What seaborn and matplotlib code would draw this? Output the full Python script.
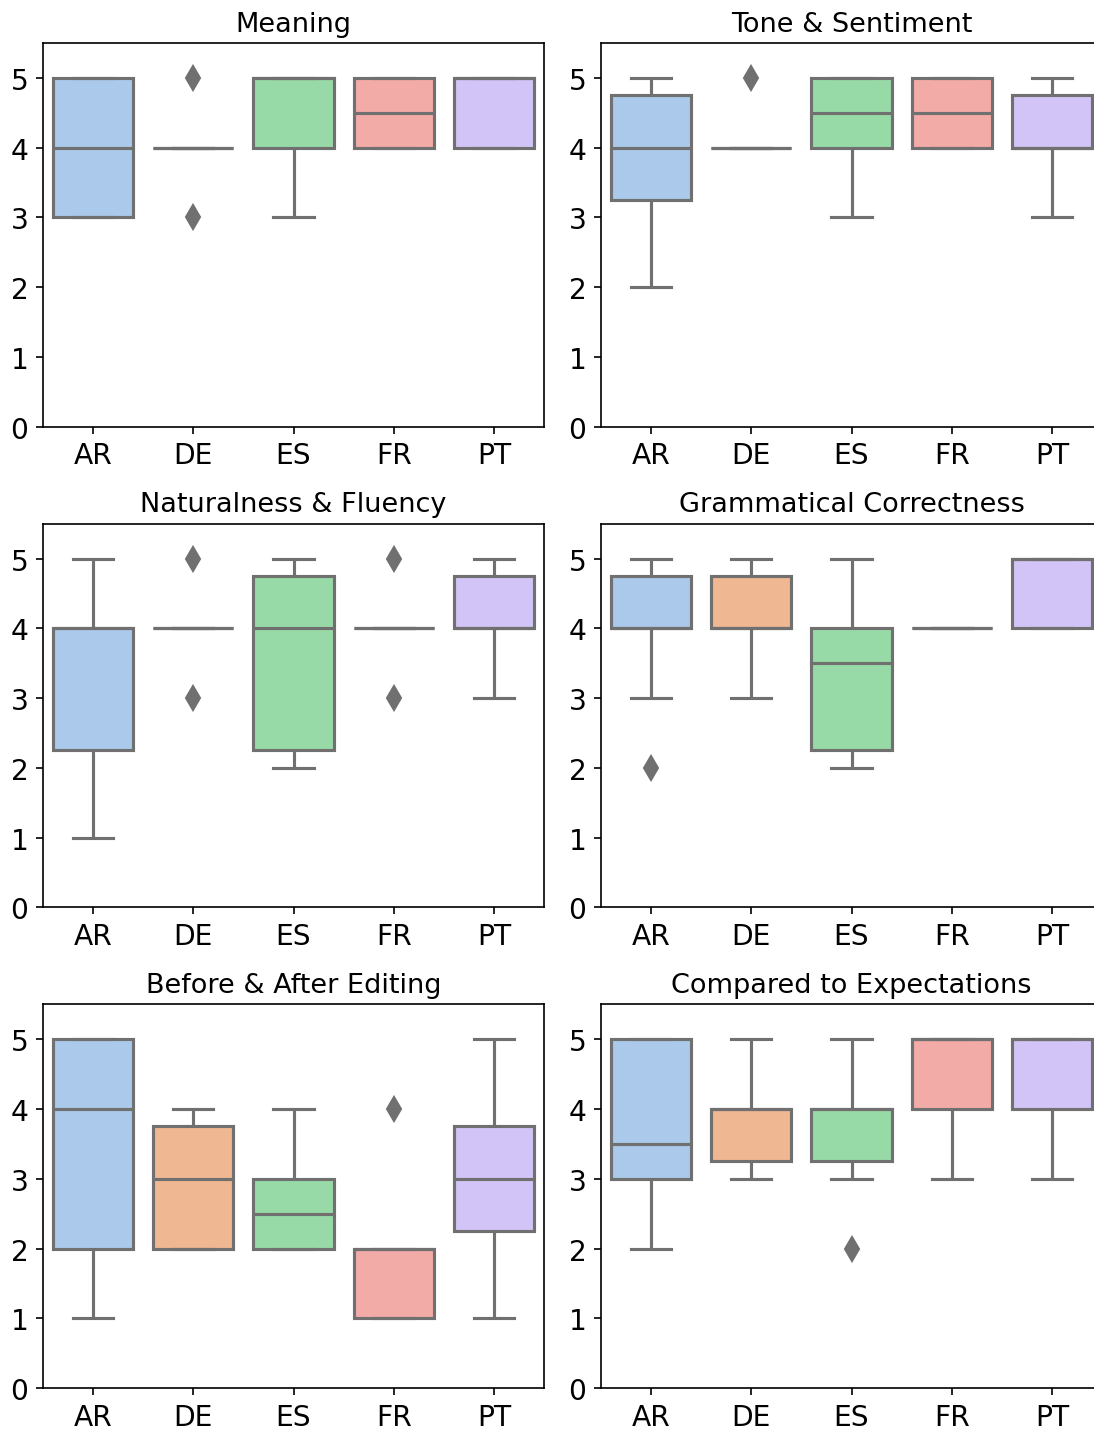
import matplotlib
matplotlib.use("Agg")
import matplotlib.pyplot as plt
import seaborn as sns
import pandas as pd

languages = ["AR", "DE", "ES", "FR", "PT"]

# Ratings (1-5) per language for each evaluation criterion
meaning = {
    "AR": [3, 3, 4, 5, 5],
    "DE": [3, 4, 4, 4, 5],
    "ES": [3, 4, 5, 5, 5],
    "FR": [4, 4, 4, 5, 5, 5],
    "PT": [4, 4, 5, 5, 5],
}
tone = {
    "AR": [2, 3, 4, 4, 5, 5],
    "DE": [4, 4, 4, 4, 5],
    "ES": [3, 4, 4, 5, 5, 5],
    "FR": [4, 4, 4, 5, 5, 5],
    "PT": [3, 4, 4, 4, 5, 5],
}
naturalness = {
    "AR": [1, 2, 2, 3, 4, 4, 4, 4, 4, 5],
    "DE": [3, 4, 4, 4, 5],
    "ES": [2, 2, 2, 3, 4, 4, 4, 5, 5, 5],
    "FR": [3, 4, 4, 4, 5],
    "PT": [3, 4, 4, 4, 5, 5],
}
grammar = {
    "AR": [2, 3, 4, 4, 4, 4, 4, 5, 5, 5],
    "DE": [3, 4, 4, 4, 5, 5],
    "ES": [2, 2, 3, 4, 4, 5],
    "FR": [4, 4, 4, 4],
    "PT": [4, 4, 5, 5, 5],
}
editing = {
    "AR": [1, 2, 4, 5, 5],
    "DE": [2, 2, 2, 2, 3, 3, 3, 4, 4, 4],
    "ES": [2, 2, 2, 3, 3, 4],
    "FR": [1, 1, 2, 2, 4],
    "PT": [1, 2, 3, 3, 4, 5],
}
expectations = {
    "AR": [2, 3, 3, 3, 4, 5, 5, 5],
    "DE": [3, 3, 4, 4, 4, 5],
    "ES": [2, 3, 4, 4, 4, 5],
    "FR": [3, 4, 5, 5, 5],
    "PT": [3, 4, 5, 5, 5],
}

panels = [
    ("Meaning", meaning),
    ("Tone & Sentiment", tone),
    ("Naturalness & Fluency", naturalness),
    ("Grammatical Correctness", grammar),
    ("Before & After Editing", editing),
    ("Compared to Expectations", expectations),
]

gray = "#707070"
palette = dict(zip(languages, sns.color_palette("pastel", len(languages))))

fig, axes = plt.subplots(3, 2, figsize=(1094 / 150, 1431 / 150), dpi=150)
fig.subplots_adjust(left=43 / 1094, right=1102 / 1094, wspace=57 / 501,
                    top=1 - 44 / 1431, bottom=1 - 1389 / 1431, hspace=97 / 383)

for ax, (title, ratings) in zip(axes.flat, panels):
    rows = [(lang, v) for lang in languages for v in ratings[lang]]
    df = pd.DataFrame(rows, columns=["language", "rating"])
    sns.boxplot(
        data=df, x="language", y="rating", hue="language", order=languages,
        hue_order=languages, palette=palette, saturation=0.75, width=0.8,
        linecolor=gray, linewidth=1.5, legend=False, ax=ax,
        flierprops=dict(marker="d", markerfacecolor=gray, markeredgecolor=gray,
                        markersize=8, markeredgewidth=1),
    )
    ax.set_title(title, fontsize=13)
    ax.set_ylim(0, 5.5)
    ax.set_yticks(range(6))
    ax.set_xlabel("")
    ax.set_ylabel("")
    ax.tick_params(labelsize=13.5)

fig.savefig("out.png", dpi=150)
